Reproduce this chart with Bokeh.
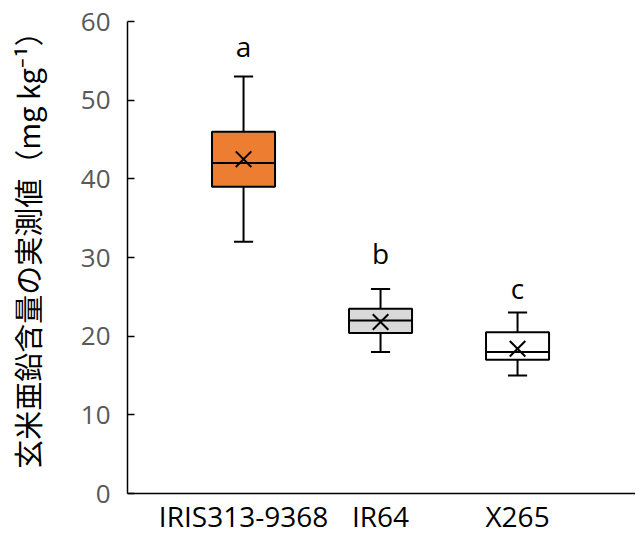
from bokeh.plotting import figure
from bokeh.models import Range1d, FixedTicker, ColumnDataSource
from bokeh.core.properties import value
from bokeh.embed import file_html
from bokeh.resources import INLINE

categories = ["IRIS313-9368", "IR64", "X265"]
whisker_min = [32, 18, 15]
q1 = [39, 20.4, 17]
median = [42, 22, 18]
q3 = [46, 23.5, 20.5]
whisker_max = [53, 26, 23]
means = [42.5, 21.8, 18.4]
letters = ["a", "b", "c"]
letter_y = [56.9, 30.6, 26.1]
fills = ["#ED7D31", "#D9D9D9", "#FFFFFF"]
y_label = "玄米亜鉛含量の実測値（mg kg⁻¹）"

xs = [1, 2, 3]
box_w = 0.46
cap_w = 0.14

src = ColumnDataSource(dict(
    x=xs, lo=whisker_min, q1=q1, med=median, q3=q3, hi=whisker_max,
    mean=means, letter=letters, ly=letter_y, fill=fills,
    x0=[x - box_w / 2 for x in xs], x1=[x + box_w / 2 for x in xs],
    c0=[x - cap_w / 2 for x in xs], c1=[x + cap_w / 2 for x in xs],
))

p = figure(frame_width=508, frame_height=472, output_backend="svg", toolbar_location=None,
           x_range=Range1d(0.153, 3.861), y_range=Range1d(0, 60),
           min_border_left=127, min_border_right=0, min_border_top=21,
           min_border_bottom=0)
p.outline_line_color = None
p.grid.grid_line_color = None
p.background_fill_color = "white"
p.border_fill_color = "white"

lw = 2
# whiskers
p.segment(x0="x", y0="q3", x1="x", y1="hi", source=src, line_color="black", line_width=lw)
p.segment(x0="x", y0="lo", x1="x", y1="q1", source=src, line_color="black", line_width=lw)
p.segment(x0="c0", y0="hi", x1="c1", y1="hi", source=src, line_color="black", line_width=lw)
p.segment(x0="c0", y0="lo", x1="c1", y1="lo", source=src, line_color="black", line_width=lw)
# boxes
p.vbar(x="x", bottom="q1", top="q3", width=box_w, source=src,
       fill_color="fill", line_color="black", line_width=lw)
p.segment(x0="x0", y0="med", x1="x1", y1="med", source=src, line_color="black", line_width=lw)
# means
p.scatter(x="x", y="mean", source=src, marker="x", size=22, line_color="black", line_width=2)
# letters
p.text(x="x", y="ly", text="letter", source=src, text_align="center",
       text_baseline="alphabetic", text_font=value("Open Sans"),
       text_font_size="28px", text_color="black")

# y axis
ya = p.yaxis[0]
ya.ticker = FixedTicker(ticks=[0, 10, 20, 30, 40, 50, 60])
ya.major_tick_in = 7
ya.major_tick_out = 0
ya.minor_tick_line_color = None
ya.axis_line_width = 1.5
ya.axis_line_color = "black"
ya.major_tick_line_color = "black"
ya.major_tick_line_width = 1.5
ya.major_label_text_font = "Open Sans"
ya.major_label_text_font_size = "26px"
ya.major_label_text_color = "#595959"
ya.major_label_standoff = 17
# leading ideographic space nudges the centred label upward, as in the reference
ya.axis_label = "\u3000" + y_label
ya.axis_label_text_font = "Noto Sans CJK JP"
ya.axis_label_text_font_style = "normal"
ya.axis_label_text_font_size = "29px"
ya.axis_label_text_color = "black"
ya.axis_label_standoff = 30

# x axis
xa = p.xaxis[0]
xa.ticker = FixedTicker(ticks=xs)
xa.major_label_overrides = {x: c for x, c in zip(xs, categories)}
xa.major_tick_in = 0
xa.major_tick_out = 0
xa.minor_tick_line_color = None
xa.axis_line_width = 1.5
xa.axis_line_color = "black"
xa.major_label_text_font = "Open Sans"
xa.major_label_text_font_size = "28px"
xa.major_label_text_color = "black"
xa.major_label_standoff = 3

open("out.html", "w").write(file_html(p, INLINE))
